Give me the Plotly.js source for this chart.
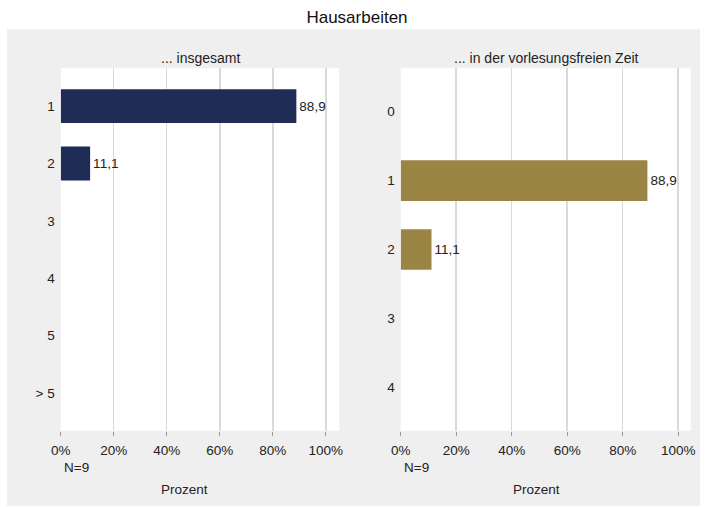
<!DOCTYPE html>
<html>
<head>
<meta charset="utf-8">
<script src="https://cdn.plot.ly/plotly-3.0.1.min.js"></script>
<style>html,body{margin:0;padding:0;background:#fff;}#chart{width:707px;height:507px;}</style>
</head>
<body>
<div id="chart"></div>
<script>
// ---- data ----
var chartTitle = "Hausarbeiten";
var leftTitle = "... insgesamt";
var rightTitle = "... in der vorlesungsfreien Zeit";
var leftCategories = ["1", "2", "3", "4", "5", "> 5"];
var leftValues = [88.9, 11.1, 0, 0, 0, 0];
var rightCategories = ["0", "1", "2", "3", "4"];
var rightValues = [0, 88.9, 11.1, 0, 0];
var xTickVals = [0, 20, 40, 60, 80, 100];
var xTickText = ["0%", "20%", "40%", "60%", "80%", "100%"];
var nLabel = "N=9";
var xAxisLabel = "Prozent";

// ---- helpers ----
var W = 707, H = 507;
function px(x) { return x / W; }
function py(y) { return 1 - y / H; }
function fmt(v) { return v > 0 ? v.toFixed(1).replace('.', ',') : ''; }
function idx(arr) { return arr.map(function (_, i) { return i; }); }

var FONT = 'Liberation Sans, Arial, sans-serif';
var navy = '#1f2c56';
var gold = '#9b8544';
var gridCol = '#dadada';

var traces = [
  {
    type: 'bar', orientation: 'h',
    x: leftValues, y: idx(leftCategories),
    text: leftValues.map(fmt), textposition: 'outside', cliponaxis: false,
    textfont: {family: FONT, size: 13.5, color: '#222'},
    marker: {color: navy, line: {width: 0}},
    width: 0.59, xaxis: 'x', yaxis: 'y', hoverinfo: 'x+y'
  },
  {
    type: 'bar', orientation: 'h',
    x: rightValues, y: idx(rightCategories),
    text: rightValues.map(fmt), textposition: 'outside', cliponaxis: false,
    textfont: {family: FONT, size: 13.5, color: '#222'},
    marker: {color: gold, line: {width: 0}},
    width: 0.59, xaxis: 'x2', yaxis: 'y2', hoverinfo: 'x+y'
  }
];

function xaxisDef(domain, maxv, anchor) {
  return {
    domain: domain, range: [0, maxv], anchor: anchor,
    tickvals: xTickVals, ticktext: xTickText,
    ticks: 'outside', ticklen: 4, tickwidth: 1, tickcolor: '#999',
    ticklabelstandoff: 3,
    showgrid: true, gridcolor: gridCol, gridwidth: 1.5,
    zeroline: false, showline: false,
    tickfont: {family: FONT, size: 13.5, color: '#222'},
    fixedrange: true
  };
}
function yaxisDef(cats, anchor, pad) {
  return {
    domain: [py(430.7), py(68.3)], anchor: anchor,
    range: [cats.length - 1 + pad, -pad],
    tickvals: idx(cats), ticktext: cats,
    ticks: '', showgrid: false, zeroline: false, showline: false,
    ticklabelstandoff: 5,
    tickfont: {family: FONT, size: 13.5, color: '#222'},
    fixedrange: true
  };
}

var layout = {
  width: W, height: H,
  margin: {l: 0, r: 0, t: 0, b: 0},
  paper_bgcolor: '#ffffff', plot_bgcolor: 'rgba(0,0,0,0)',
  showlegend: false,
  font: {family: FONT, color: '#222'},
  title: {text: chartTitle, x: px(357), xanchor: 'center', y: py(17), yanchor: 'middle',
          font: {family: FONT, size: 17, color: '#111'}},
  xaxis: xaxisDef([px(60.7), px(339.3)], 105.1, 'y'),
  yaxis: yaxisDef(leftCategories, 'x', 0.66),
  xaxis2: xaxisDef([px(400.7), px(690.7)], 104.5, 'y2'),
  yaxis2: yaxisDef(rightCategories, 'x2', 0.63),
  shapes: [
    {type: 'rect', xref: 'paper', yref: 'paper', x0: px(7), x1: px(700), y0: py(506), y1: py(29.3),
     fillcolor: '#efefef', line: {width: 0}, layer: 'below'},
    {type: 'rect', xref: 'paper', yref: 'paper', x0: px(60.7), x1: px(339.3), y0: py(430.7), y1: py(68.3),
     fillcolor: '#ffffff', line: {width: 0}, layer: 'below'},
    {type: 'rect', xref: 'paper', yref: 'paper', x0: px(400.7), x1: px(690.7), y0: py(430.7), y1: py(68.3),
     fillcolor: '#ffffff', line: {width: 0}, layer: 'below'}
  ],
  annotations: [
    {text: leftTitle, xref: 'paper', yref: 'paper', x: px(200), y: py(58), xanchor: 'center', yanchor: 'middle',
     showarrow: false, font: {family: FONT, size: 14, color: '#222'}},
    {text: rightTitle, xref: 'paper', yref: 'paper', x: px(546), y: py(58), xanchor: 'center', yanchor: 'middle',
     showarrow: false, font: {family: FONT, size: 14, color: '#222'}},
    {text: nLabel, xref: 'paper', yref: 'paper', x: px(76), y: py(467), xanchor: 'center', yanchor: 'middle',
     showarrow: false, font: {family: FONT, size: 13.5, color: '#222'}},
    {text: nLabel, xref: 'paper', yref: 'paper', x: px(416), y: py(467), xanchor: 'center', yanchor: 'middle',
     showarrow: false, font: {family: FONT, size: 13.5, color: '#222'}},
    {text: xAxisLabel, xref: 'paper', yref: 'paper', x: px(184), y: py(489), xanchor: 'center', yanchor: 'middle',
     showarrow: false, font: {family: FONT, size: 13.5, color: '#222'}},
    {text: xAxisLabel, xref: 'paper', yref: 'paper', x: px(536), y: py(489), xanchor: 'center', yanchor: 'middle',
     showarrow: false, font: {family: FONT, size: 13.5, color: '#222'}}
  ]
};

Plotly.newPlot('chart', traces, layout, {displayModeBar: false, staticPlot: true});
</script>
</body>
</html>
